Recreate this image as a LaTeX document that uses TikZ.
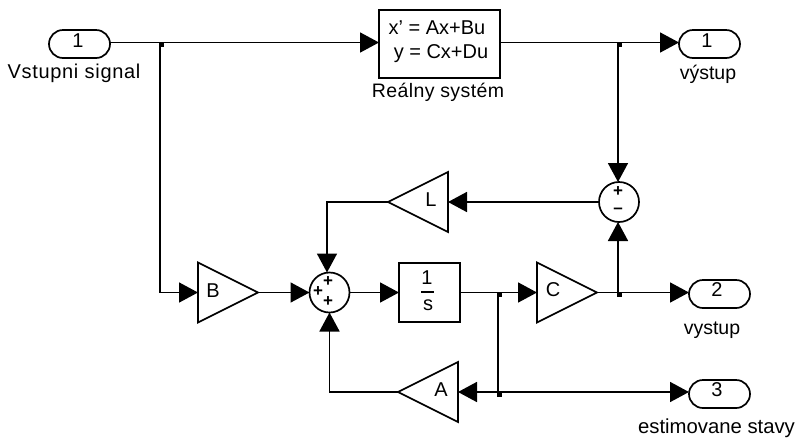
\documentclass[tikz,border=0pt]{standalone}
\usepackage{fontspec}
\setmainfont{Liberation Sans}
\newfontfamily\wideA[LetterSpace=3.5]{Liberation Sans}
\newfontfamily\wideB[LetterSpace=2]{Liberation Sans}
\newfontfamily\signfont{Liberation Sans Bold}
\usetikzlibrary{arrows.meta,shapes.geometric}
\tikzset{
  x=1pt,y=-1pt,
  every node/.style={font=\fontsize{20}{24}\selectfont,inner sep=0,outer sep=0},
  wire/.style={line width=1.7pt,-{Triangle[length=19pt,width=20pt]}},
  plain/.style={line width=1.7pt},
  blockbox/.style={draw,line width=1.7pt,rectangle},
  port/.style={draw,line width=1.7pt,rectangle,rounded corners=14pt,minimum width=61pt,minimum height=28pt},
  sumc/.style={draw,line width=1.7pt,circle,minimum size=40pt},
  gainr/.style={draw,line width=1.7pt,isosceles triangle,isosceles triangle stretches,minimum width=60pt,minimum height=60pt,anchor=apex,shape border rotate=0},
  gainl/.style={gainr,shape border rotate=180},
  dotj/.style={fill,rectangle,minimum size=5pt},
  lab/.style={anchor=center},
  sign/.style={font=\signfont\fontsize{17}{17}\selectfont}
}
\begin{document}
\begin{tikzpicture}
\useasboundingbox (0,0) rectangle (798,440);
\node[port] (in1) at (79.5,44) {};
\node at (78,41) {1};
\node[lab,font=\wideA\fontsize{20}{24}\selectfont] (l1) at (74,73) {Vstupni signal};
\node[blockbox,minimum width=121pt,minimum height=68pt] (sys) at (439.5,44) {};
\node (eq1) at (437,28) {x' = Ax+Bu};
\node (eq2) at (441,54) {y = Cx+Du};
\node[lab,font=\wideB\fontsize{19.5}{24}\selectfont] (l2) at (438,92) {Reálny systém};
\node[port] (out1) at (709.5,44) {};
\node at (707,41) {1};
\node[lab,font=\fontsize{19.5}{24}\selectfont] (l3) at (708,74) {výstup};
\node[sumc] (s1) at (619,202) {};
\node[sign] at (618,192) {+};
\node[sign] at (618,211) {–};
\node[gainl] (L) at (388,202) {};
\node (Lt) at (431,200) {L};
\node[gainr] (B) at (258,292.5) {};
\node (Bt) at (213,291) {B};
\node[sumc] (s2) at (329.5,292.5) {};
\node[sign] at (328,282) {+};
\node[sign] at (318,292) {+};
\node[sign] at (328,302) {+};
\node[blockbox,minimum width=61pt,minimum height=59pt] (int) at (429.5,292.5) {};
\node (n1) at (427,278) {1};
\draw[line width=1.4pt] (421,292) -- (434,292);
\node (n2) at (428,305) {s};
\node[gainr] (C) at (597,292.5) {};
\node (Ct) at (553,290) {C};
\node[port] (out2) at (719.5,294) {};
\node at (717,290) {2};
\node[lab,font=\fontsize{19.5}{24}\selectfont] (l4) at (712,330) {vystup};
\node[gainl] (A) at (398,392) {};
\node (At) at (441,390) {A};
\node[port] (out3) at (719.5,394) {};
\node at (717,390) {3};
\node[lab,font=\fontsize{20.3}{24}\selectfont] (l5) at (716.5,428) {estimovane stavy};
\coordinate (j1) at (160,42.5);
\coordinate (j2) at (618,42.5);
\coordinate (j3) at (498,292.5);
\coordinate (j4) at (618,292.5);
\coordinate (j5) at (498,392);
\coordinate (c1) at (160,292.5);
\coordinate (c2) at (327,202);
\coordinate (c3) at (329.5,392);
\draw[wire] (in1.east|-j1) -- (sys.west|-j1);
\draw[wire] (sys.east|-j1) -- (out1.west|-j1);
\draw[wire] (j1) -- (c1) -- (B.lower side);
\draw[wire] (j2) -- (j2|-s1.north);
\draw[wire] (s1.west) -- (L.lower side);
\draw[wire] (L.apex) -- (c2) -- (c2|-s2.north);
\draw[wire] (B.apex) -- (s2.west);
\draw[wire] (s2.east) -- (int.west);
\draw[wire] (int.east) -- (C.lower side);
\draw[wire] (C.apex) -- (out2.west|-C.apex);
\draw[wire] (j4) -- (j4|-s1.south);
\draw[plain] (j3) -- (j5);
\draw[wire] (j5) -- (out3.west|-j5);
\draw[wire] (j5) -- (A.lower side);
\draw[wire] (A.apex) -- (c3) -- (s2.south);
\node[dotj] (d1) at (161,44) {};
\node[dotj] (d2) at (619.5,44) {};
\node[dotj] (d3) at (499.5,294.5) {};
\node[dotj] (d4) at (619.5,294.5) {};
\node[dotj] (d5) at (499.5,394) {};
\end{tikzpicture}
\end{document}
